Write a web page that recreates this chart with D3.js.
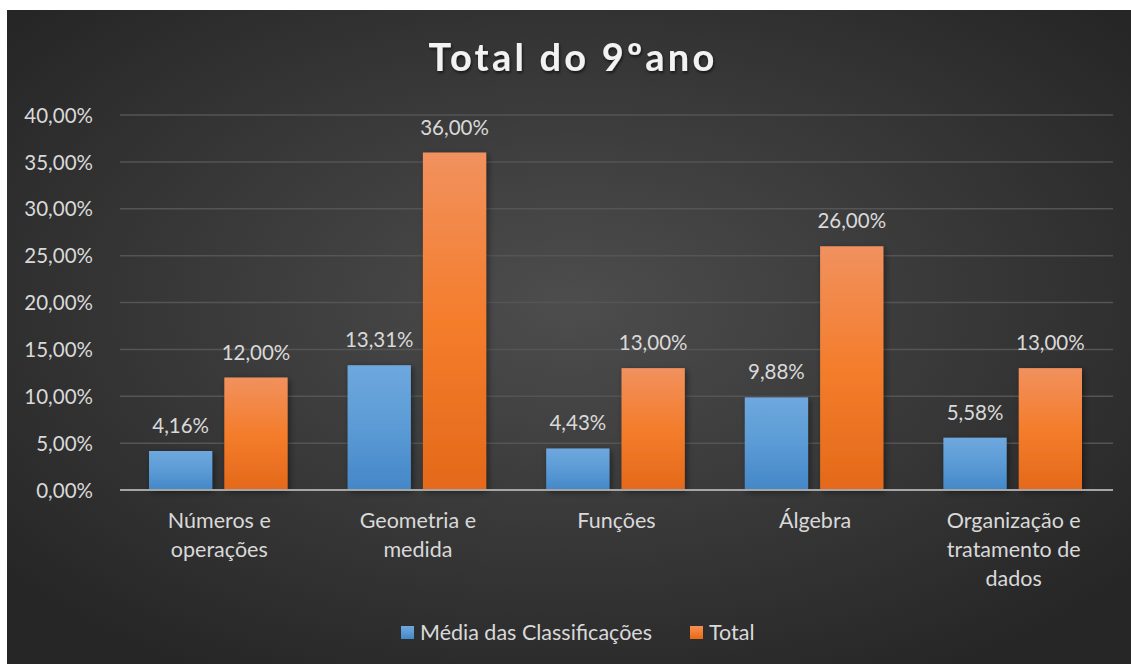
<!DOCTYPE html>
<html>
<head>
<meta charset="utf-8">
<script src="https://cdn.jsdelivr.net/npm/d3@7"></script>
<style>
  body { margin: 0; background: #fff; }
  svg text { font-family: Lato, "Open Sans", sans-serif; }
</style>
</head>
<body>
<svg id="chart" width="1131" height="664"></svg>
<script>
// Categories and the two series
var categories = [
  ["Números e", "operações"],
  ["Geometria e", "medida"],
  ["Funções"],
  ["Álgebra"],
  ["Organização e", "tratamento de", "dados"]
];
var media = [4.16, 13.31, 4.43, 9.88, 5.58];
var total = [12, 36, 13, 26, 13];
var seriesNames = ["Média das Classificações", "Total"];
var yTicks = [0, 5, 10, 15, 20, 25, 30, 35, 40];

var svg = d3.select("#chart");
var defs = svg.append("defs");

// dark radial background like the Excel style
var bg = defs.append("radialGradient").attr("id", "bg")
  .attr("cx", "50%").attr("cy", "45%").attr("r", "65%");
bg.append("stop").attr("offset", "0%").attr("stop-color", "#4d4d4d");
bg.append("stop").attr("offset", "100%").attr("stop-color", "#262626");

var gBlue = defs.append("linearGradient").attr("id", "gBlue")
  .attr("x1", 0).attr("y1", 0).attr("x2", 0).attr("y2", 1);
gBlue.append("stop").attr("offset", "0%").attr("stop-color", "#6ea8de");
gBlue.append("stop").attr("offset", "50%").attr("stop-color", "#5b9bd5");
gBlue.append("stop").attr("offset", "100%").attr("stop-color", "#4487c8");

var gOrange = defs.append("linearGradient").attr("id", "gOrange")
  .attr("x1", 0).attr("y1", 0).attr("x2", 0).attr("y2", 1);
gOrange.append("stop").attr("offset", "0%").attr("stop-color", "#f1915e");
gOrange.append("stop").attr("offset", "50%").attr("stop-color", "#f47d2c");
gOrange.append("stop").attr("offset", "100%").attr("stop-color", "#e4691a");

var shadow = defs.append("filter").attr("id", "shadow")
  .attr("x", "-20%").attr("y", "-20%").attr("width", "150%").attr("height", "150%");
shadow.append("feDropShadow").attr("dx", 2).attr("dy", 2).attr("stdDeviation", 3)
  .attr("flood-color", "#000").attr("flood-opacity", 0.45);

var tshadow = defs.append("filter").attr("id", "tshadow");
tshadow.append("feDropShadow").attr("dx", 1).attr("dy", 2).attr("stdDeviation", 1.5)
  .attr("flood-color", "#000").attr("flood-opacity", 0.6);

svg.append("rect").attr("x", 7).attr("y", 10).attr("width", 1124).attr("height", 654)
  .attr("fill", "url(#bg)");

// plot area (avoid the name "top", it clashes with window.top)
var plotLeft = 120, plotRight = 1113, plotTop = 115, plotBottom = 490;

var x = d3.scaleBand().domain(d3.range(categories.length)).range([plotLeft, plotRight]);
var x1 = d3.scaleBand().domain([0, 1]).range([29, x.bandwidth() - 31]).paddingInner(0.16);
var y = d3.scaleLinear().domain([0, 40]).range([plotBottom, plotTop]);

var fmt = function(v) { return d3.format(".2f")(v).replace(".", ",") + "%"; };

// gridlines
svg.append("g").selectAll("line").data(yTicks.slice(1)).enter().append("line")
  .attr("x1", plotLeft).attr("x2", plotRight)
  .attr("y1", function(d) { return y(d); }).attr("y2", function(d) { return y(d); })
  .attr("stroke", "#555").attr("stroke-width", 1.5);

// y axis labels
var yAxis = svg.append("g").attr("transform", "translate(" + (plotLeft - 24) + ",0)")
  .call(d3.axisLeft(y).tickValues(yTicks).tickSize(0).tickFormat(fmt));
yAxis.select(".domain").remove();
yAxis.selectAll("text").attr("fill", "#d9d9d9").attr("font-size", 20.5)
  .style("font-family", "Lato, 'Open Sans', sans-serif").attr("dy", "0.35em");

// bars
var series = [
  { name: seriesNames[0], values: media, fill: "url(#gBlue)" },
  { name: seriesNames[1], values: total, fill: "url(#gOrange)" }
];

series.forEach(function(s, si) {
  var g = svg.append("g");
  g.selectAll("rect").data(s.values).enter().append("rect")
    .attr("x", function(d, i) { return x(i) + x1(si); })
    .attr("y", function(d) { return y(d); })
    .attr("width", x1.bandwidth())
    .attr("height", function(d) { return plotBottom - y(d); })
    .attr("fill", s.fill)
    .attr("filter", "url(#shadow)");
  g.selectAll("text").data(s.values).enter().append("text")
    .attr("x", function(d, i) { return x(i) + x1(si) + x1.bandwidth() / 2; })
    .attr("y", function(d) { return y(d) - 18; })
    .attr("text-anchor", "middle")
    .attr("fill", "#d9d9d9").attr("font-size", 20.5)
    .text(fmt);
});

// baseline
svg.append("line").attr("x1", plotLeft).attr("x2", plotRight).attr("y1", plotBottom).attr("y2", plotBottom)
  .attr("stroke", "#a6a6a6").attr("stroke-width", 2);

// category labels
var cat = svg.append("g").selectAll("text").data(categories).enter().append("text")
  .attr("x", function(d, i) { return x(i) + x.bandwidth() / 2; })
  .attr("y", 528)
  .attr("text-anchor", "middle")
  .attr("fill", "#d9d9d9").attr("font-size", 21.5);
cat.selectAll("tspan").data(function(d) { return d; }).enter().append("tspan")
  .attr("x", function() { return d3.select(this.parentNode).attr("x"); })
  .attr("dy", function(d, i) { return i === 0 ? 0 : 29; })
  .text(function(d) { return d; });

// title
svg.append("text").attr("x", 573).attr("y", 71).attr("text-anchor", "middle")
  .attr("fill", "#f2f2f2").attr("font-size", 38).attr("font-weight", "bold")
  .attr("letter-spacing", 3.2).attr("filter", "url(#tshadow)")
  .text("Total do 9ºano");

// legend
var legendPos = [401, 690];
var lg = svg.append("g").selectAll("g").data(series).enter().append("g")
  .attr("transform", function(d, i) { return "translate(" + legendPos[i] + ",626)"; });
lg.append("rect").attr("width", 13).attr("height", 13)
  .attr("fill", function(d) { return d.fill; });
lg.append("text").attr("x", 19).attr("y", 6.5).attr("dy", "0.35em")
  .attr("fill", "#d9d9d9").attr("font-size", 21.5)
  .text(function(d) { return d.name; });
</script>
</body>
</html>
